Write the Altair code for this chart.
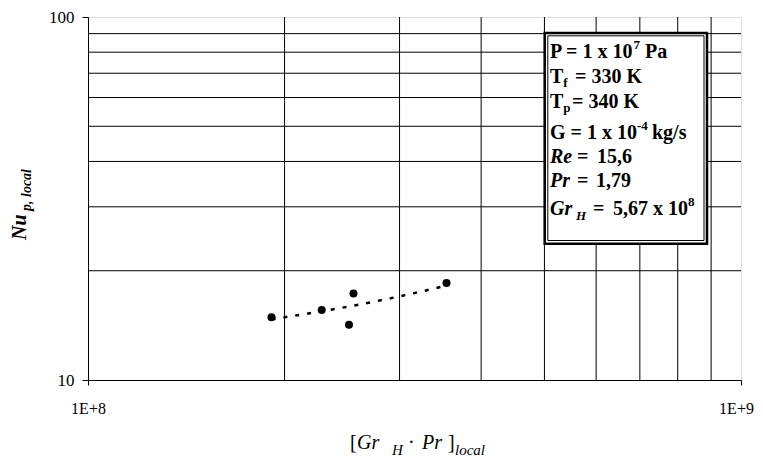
import altair as alt
import pandas as pd

# ---------------- data ----------------
gr_pr_local = [1.91e8, 2.28e8, 2.51e8, 2.55e8, 3.54e8]
nu_local = [14.9, 15.6, 14.2, 17.3, 18.5]
trend_gr_pr = [1.91e8, 2.20e8, 2.63e8, 3.00e8, 3.54e8]
trend_nu = [14.7, 15.3, 16.2, 17.0, 18.2]
x_grid = [2e8, 3e8, 4e8, 5e8, 6e8, 7e8, 8e8, 9e8]
y_grid = [20, 30, 40, 50, 60, 70, 80, 90]
x_ticks = [1e8, 1e9]
y_ticks = [10, 100]

# ---------------- layout ----------------
W, H = 653, 363
FONT = "'Liberation Serif', 'Times New Roman', 'DejaVu Serif', serif"

xs = alt.Scale(type="log", domain=[1e8, 1e9], nice=False)
ys = alt.Scale(type="log", domain=[10, 100], nice=False)

xaxis = alt.Axis(values=x_ticks, labelExpr="'1E+' + round(log(datum.value)/LN10)",
                 grid=False, tickSize=5, labelPadding=15, title=None,
                 labelFont=FONT, labelFontSize=16, labelColor="black",
                 labelOffset={"condition": {"test": "datum.value > 5e8", "value": -5}, "value": 0},
                 domainColor="black", tickColor="black", labelFlush=False)
yaxis = alt.Axis(values=y_ticks, format="d", grid=False, tickSize=6, labelPadding=8,
                 title=None, labelFont=FONT, labelFontSize=17, labelColor="black",
                 domainColor="black", tickColor="black", labelFlush=False)

pts = pd.DataFrame({"x": gr_pr_local, "y": nu_local})
trend = pd.DataFrame({"x": trend_gr_pr, "y": trend_nu})
one = pd.DataFrame({"a": [0]})

X = lambda: alt.X("x:Q", scale=xs, axis=xaxis)
Y = lambda: alt.Y("y:Q", scale=ys, axis=yaxis)

vgrid = alt.Chart(pd.DataFrame({"x": x_grid})).mark_rule(color="black", strokeWidth=1).encode(x=X())
hgrid = alt.Chart(pd.DataFrame({"y": y_grid})).mark_rule(color="black", strokeWidth=1).encode(y=Y())
line = alt.Chart(trend).mark_line(color="black", strokeWidth=2.5, strokeDash=[4, 8],
                                  interpolate="monotone").encode(x=X(), y=Y())
dots = alt.Chart(pts).mark_circle(color="black", opacity=1, size=64).encode(x=X(), y=Y())

box_outer = alt.Chart(one).mark_rect(fill="white", stroke="black", strokeWidth=2.5).encode(
    x=alt.value(456.7), x2=alt.value(619), y=alt.value(16), y2=alt.value(226.7))
box_inner = alt.Chart(one).mark_rect(fill="white", stroke="black", strokeWidth=1).encode(
    x=alt.value(459.8), x2=alt.value(616), y=alt.value(18.8), y2=alt.value(223.5))


def txt(t, x, y, size, weight="normal", style="normal", angle=0):
    return alt.Chart(one).mark_text(
        text=t, font=FONT, fontSize=size, fontWeight=weight, fontStyle=style,
        angle=angle, align="left", baseline="alphabetic", color="black"
    ).encode(x=alt.value(x), y=alt.value(y))


B = "bold"
I = "italic"
texts = [
    # legend box
    txt("P = 1 x 10", 462, 41.3, 20, B), txt("7", 545.6, 32.3, 13, B), txt("Pa", 557, 41.3, 20, B),
    txt("T", 462, 66.3, 20, B), txt("f", 475.3, 70.3, 13, B), txt("= 330 K", 487, 66.3, 20, B),
    txt("T", 462, 91.3, 20, B), txt("p", 475.3, 95.3, 13, B), txt("= 340 K", 484, 91.3, 20, B),
    txt("G = 1 x 10", 462, 122, 20, B), txt("-4", 549, 113, 13, B), txt("kg/s", 564, 122, 20, B),
    txt("Re", 462, 146.3, 20, B, I), txt("=", 489, 146.3, 20, B), txt("15,6", 509, 146.3, 20, B),
    txt("Pr", 462, 169.7, 20, B, I), txt("=", 489, 169.7, 20, B), txt("1,79", 508, 169.7, 20, B),
    txt("Gr", 462, 198, 20, B, I), txt("H", 488, 203, 13, B, I), txt("=", 505, 198, 20, B),
    txt("5,67 x 10", 525, 198, 20, B), txt("8", 600, 189, 13, B),
    # x title
    txt("[", 262, 432, 20), txt("Gr", 269, 432, 20, "normal", I), txt("H", 304, 438, 15, "normal", I),
    txt("\u00b7", 320, 432, 20), txt("Pr", 334, 432, 20, "normal", I), txt("]", 360, 432, 20),
    txt("local", 367, 438, 15, "normal", I),
    # y title
    txt("Nu", -62, 223, 20, B, I, 270), txt("p, local", -57, 194, 14, B, I, 270),
]

chart = alt.layer(vgrid, hgrid, line, dots, box_outer, box_inner, *texts).properties(
    width=W, height=H,
    padding={"left": 80, "top": 9, "right": 14, "bottom": 81},
    autosize="none",
).configure_view(stroke="black", strokeWidth=1).configure(background="white")

chart.save("out.html", embed_options={"renderer": "svg", "actions": False})
